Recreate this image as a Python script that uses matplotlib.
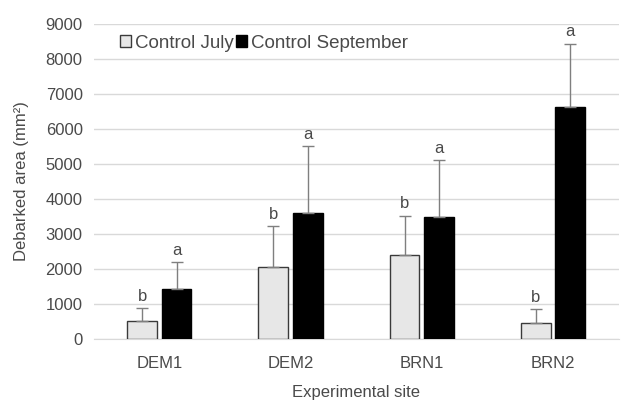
import matplotlib
matplotlib.use("Agg")
import matplotlib.pyplot as plt
import numpy as np

plt.rcParams['font.family'] = ['Liberation Sans', 'DejaVu Sans']

sites = ["DEM1", "DEM2", "BRN1", "BRN2"]
july = [500, 2050, 2385, 450]
july_err = [375, 1180, 1140, 395]
sept = [1425, 3610, 3485, 6640]
sept_err = [760, 1890, 1625, 1800]
july_letters = ["b", "b", "b", "b"]
sept_letters = ["a", "a", "a", "a"]

fig = plt.figure(figsize=(6.21, 4.05), dpi=100)
ax = fig.add_axes([0.151, 0.163, 0.845, 0.778])

x = np.arange(len(sites))
w = 0.227
gap = 0.035
xj = x - (w + gap) / 2
xs = x + (w + gap) / 2
txt = '#4a4a4a'
fs = 12

ax.bar(xj, july, w, color='#e7e7e7', edgecolor='#3a3a3a', linewidth=1.0, zorder=3, label='Control July')
ax.bar(xs, sept, w, color='black', edgecolor='black', linewidth=1.0, zorder=3, label='Control September')
ax.errorbar(xj, july, yerr=[np.zeros(4), july_err], fmt='none', ecolor='#7f7f7f', elinewidth=1, capsize=4, capthick=1, zorder=4)
ax.errorbar(xs, sept, yerr=[np.zeros(4), sept_err], fmt='none', ecolor='#7f7f7f', elinewidth=1, capsize=4, capthick=1, zorder=4)

for xi, v, e, l in zip(xj, july, july_err, july_letters):
    ax.text(xi, v + e + 120, l, ha='center', va='bottom', fontsize=fs, color=txt)
for xi, v, e, l in zip(xs, sept, sept_err, sept_letters):
    ax.text(xi, v + e + 120, l, ha='center', va='bottom', fontsize=fs, color=txt)

ax.set_ylim(0, 9000)
ax.set_xlim(-0.5, 3.5)
ax.set_yticks(np.arange(0, 9001, 1000))
ax.set_xticks(x)
ax.set_xticklabels(sites)
ax.yaxis.grid(True, color='#d9d9d9', linewidth=1, zorder=0)
ax.set_axisbelow(True)
for s in ['top', 'right', 'left']:
    ax.spines[s].set_visible(False)
ax.spines['bottom'].set_color('#d9d9d9')
ax.tick_params(axis='both', length=0, labelsize=fs, colors=txt)
ax.tick_params(axis='x', pad=12)
ax.tick_params(axis='y', pad=8)
ax.set_xlabel('Experimental site', fontsize=fs, color=txt, labelpad=10)
ax.set_ylabel('Debarked area (mm²)', fontsize=fs, color=txt, labelpad=12)

leg = ax.legend(loc='upper left', bbox_to_anchor=(0.035, 0.99), ncol=2, frameon=False,
                handlelength=0.6, handleheight=0.6, handletextpad=0.2, columnspacing=0.15,
                fontsize=13.5, borderaxespad=0)
for t in leg.get_texts():
    t.set_color(txt)

fig.savefig('out.png', dpi=100)
